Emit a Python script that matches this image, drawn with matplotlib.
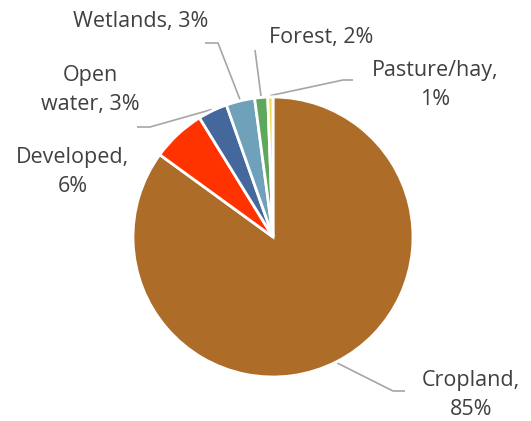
import numpy as np
import matplotlib
matplotlib.use("Agg")
import matplotlib.pyplot as plt

categories = ['Cropland', 'Developed', 'Open water', 'Wetlands', 'Forest', 'Pasture/hay']
shares = [85.0, 6.2, 3.4, 3.3, 1.5, 0.6]
label_texts = ['Cropland,\n85%', 'Developed,\n6%', 'Open\nwater, 3%',
               'Wetlands, 3%', 'Forest, 2%', 'Pasture/hay,\n1%']
colors = ['#AE6C29', '#FF3300', '#45689C', '#6FA1BB', '#5DA85C', '#EEDD55']

# label placement in pixels (centre of text block) and leader elbows
label_px = [(471, 395), (73, 172), (90, 90), (141, 21), (321, 37), (435, 85)]
elbow_px = [[(405, 391), (393, 391)], None, [(137, 127), (150, 127)],
            [(205, 43), (218, 43)], [(255, 50)], [(353, 80), (343, 80)]]

W, H = 531, 421
CX, CY, R = 273, 237, 140


def px(p):
    return ((p[0] - CX) / R, (CY - p[1]) / R)


plt.rcParams['font.family'] = ['Open Sans', 'DejaVu Sans']
fig = plt.figure(figsize=(W / 100, H / 100), dpi=100)
ax = fig.add_axes([0, 0, 1, 1])

wedges, _ = ax.pie(shares, colors=colors, startangle=90, counterclock=False, radius=1.0,
                   wedgeprops=dict(edgecolor='white', linewidth=2))

for w, txt, lp, el in zip(wedges, label_texts, label_px, elbow_px):
    x, y = px(lp)
    ax.text(x, y, txt, ha='center', va='center', fontsize=15.5, color='#404040',
            linespacing=1.45, multialignment='center')
    if el is None:
        continue
    ang = np.deg2rad((w.theta1 + w.theta2) / 2)
    pts = [px(p) for p in el] + [(1.01 * np.cos(ang), 1.01 * np.sin(ang))]
    ax.plot([p[0] for p in pts], [p[1] for p in pts], color='#A6A6A6', lw=1.2,
            solid_capstyle='butt', zorder=0)

ax.set_xlim(-CX / R, (W - CX) / R)
ax.set_ylim((CY - H) / R, CY / R)
ax.set_aspect('equal')
ax.axis('off')
fig.savefig('out.png', dpi=100)
